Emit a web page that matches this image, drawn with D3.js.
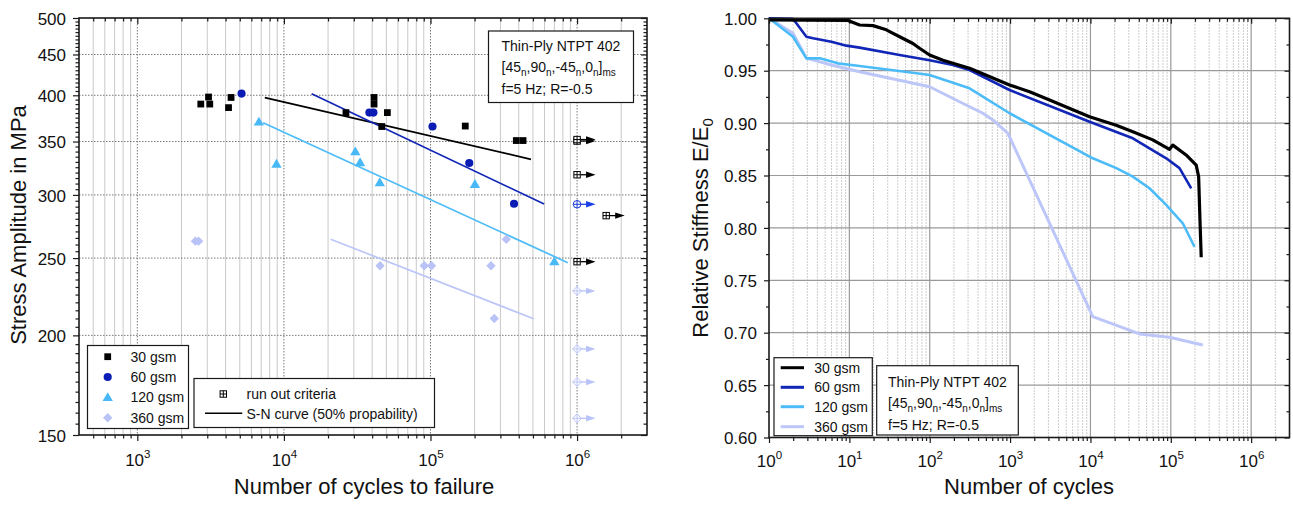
<!DOCTYPE html>
<html><head><meta charset="utf-8">
<script src="https://cdn.jsdelivr.net/npm/d3@7"></script>
<style>body{margin:0;background:#fff}svg{display:block}</style>
</head><body>
<svg id="c" width="1293" height="506"></svg>
<script>
// ---------------- DATA ----------------
const seriesNames = ["30 gsm", "60 gsm", "120 gsm", "360 gsm"];
const seriesColors = ["#000000", "#0b1cb4", "#48b9f6", "#b9c3f7"];
const lineColors = ["#000000", "#1126b6", "#4cbcf8", "#bcc6f8"];

// Left: S-N data (cycles to failure, stress amplitude MPa)
const fat30_N = [2710, 3060, 3120, 4190, 4360, 26500, 41200, 41200, 50800, 46500, 172700, 385000, 428000];
const fat30_S = [390, 398, 390, 386, 397.5, 380.5, 397.5, 390, 380.5, 365.5, 366, 351, 351];
const fat60_N = [5140, 38300, 40800, 103200, 183900, 371500];
const fat60_S = [402, 380.5, 380.5, 365.5, 329, 292.5];
const fat120_N = [6750, 8900, 30700, 33100, 45100, 201000, 700000];
const fat120_S = [370.5, 328, 340, 329.5, 311, 309.5, 247.5];
const fat360_N = [2490, 2620, 45300, 90600, 101600, 258700, 272500, 329300];
const fat360_S = [262.5, 262.5, 244.5, 244.5, 244.5, 244.5, 210, 264];

// S-N curves (start / end points)
const snCurve_N = [[7410, 485000], [15450, 596000], [7220, 864000], [20840, 505800]];
const snCurve_S = [[397.3, 332.5], [401.9, 292.2], [369.6, 246.7], [264, 209.8]];

// Run-outs
const runout_N = [1e6, 1e6, 1e6, 1.58e6, 1e6, 1e6, 1e6, 1e6, 1e6, 1e6];
const runout_S = [350.5, 352, 318, 282.6, 247.4, 292, 227.4, 192.3, 174.8, 157.4];
const runout_series = [0, 0, 0, 0, 0, 1, 3, 3, 3, 3];

// Left axis ticks
const xTicksLeft = [1e3, 1e4, 1e5, 1e6];
const yTicksLeft = [150, 200, 250, 300, 350, 400, 450, 500];

// Right: stiffness degradation curves
const stiff30_N = [1, 9.6, 13.4, 19.7, 28.8, 42.2, 61.8, 74.8, 99.7, 146, 313, 986, 1750, 3100, 9750, 20900, 33700, 59700, 96400, 106000, 155000, 207000, 222000, 230000, 239000];
const stiff30_E = [0.9985, 0.998, 0.9936, 0.993, 0.989, 0.9824, 0.976, 0.9714, 0.965, 0.960, 0.9523, 0.9364, 0.930, 0.922, 0.906, 0.898, 0.8918, 0.884, 0.875, 0.879, 0.8696, 0.860, 0.849, 0.8107, 0.772];
const stiff60_N = [1, 1.99, 2.92, 3.53, 5.97, 9.2, 13.4, 42.2, 99.7, 194, 313, 986, 9750, 33700, 87700, 128300, 179500];
const stiff60_E = [1.0, 0.9995, 0.9824, 0.981, 0.9777, 0.9739, 0.972, 0.965, 0.960, 0.9554, 0.9507, 0.9316, 0.9013, 0.8855, 0.8664, 0.857, 0.8378];
const stiff120_N = [1, 1.99, 2.92, 4.3, 7.2, 13.4, 61.8, 99.7, 313, 986, 10700, 21000, 33700, 54300, 87700, 141000, 197000];
const stiff120_E = [1.0, 0.9824, 0.9618, 0.9618, 0.957, 0.9545, 0.948, 0.9459, 0.9332, 0.9094, 0.8664, 0.857, 0.8489, 0.8378, 0.8219, 0.8044, 0.782];
const stiff360_N = [1, 1.99, 2.92, 5.97, 13.4, 99.7, 235, 459, 611, 940, 10700, 40800, 96400, 250000];
const stiff360_E = [1.0, 0.9857, 0.962, 0.9554, 0.949, 0.9347, 0.9204, 0.9094, 0.903, 0.8903, 0.7153, 0.6988, 0.6956, 0.6883];

const xTicksRight = [1, 10, 100, 1e3, 1e4, 1e5, 1e6];
const yTicksRight = [0.60, 0.65, 0.70, 0.75, 0.80, 0.85, 0.90, 0.95, 1.00];

// ---------------- DRAW ----------------
const FONT = '"Liberation Sans", Arial, Helvetica, sans-serif';
const svg = d3.select("#c").attr("font-family", FONT);
const AX = "#1a1a1a";

function minorLog(domain) {
  const out = [];
  for (let k = -1; k <= 7; k++) for (let n = 2; n <= 9; n++) {
    const v = n * Math.pow(10, k);
    if (v > domain[0] * 1.0001 && v < domain[1] * 0.9999) out.push(v);
  }
  return out;
}
function styleAxis(g, w) {
  g.select(".domain").remove();
  g.selectAll(".tick line").attr("stroke", AX).attr("stroke-width", w || 1.2);
}
function supLabels(g, size, y) {
  g.selectAll(".tick text").each(function (d) {
    const t = d3.select(this);
    const e = Math.round(Math.log10(d));
    t.text(null).attr("font-size", size).attr("fill", "#111").attr("y", y).attr("dy", 0);
    t.append("tspan").text("10");
    t.append("tspan").attr("dy", -size * 0.45).attr("font-size", size * 0.68).text(e);
  });
}

// ===== LEFT CHART =====
const L = { x0: 79, x1: 647, y0: 18, y1: 435 };
const xL = d3.scaleLog().domain([400, 3e6]).range([L.x0, L.x1]);
const yL = d3.scaleLog().domain([150, 500]).range([L.y1, L.y0]);
const xMinorL = minorLog(xL.domain());
const yMinorL = d3.range(155, 500, 5).filter(v => v % 50 !== 0);

const gl = svg.append("g");
gl.append("g").selectAll("line").data(xMinorL).join("line")
  .attr("x1", d => xL(d)).attr("x2", d => xL(d)).attr("y1", L.y0).attr("y2", L.y1)
  .attr("stroke", "#c9c9c9").attr("stroke-width", 1);
gl.append("g").selectAll("line").data(xTicksLeft).join("line")
  .attr("x1", d => xL(d)).attr("x2", d => xL(d)).attr("y1", L.y0).attr("y2", L.y1)
  .attr("stroke", "#7a7a7a").attr("stroke-width", 1).attr("stroke-dasharray", "1.5,1.5");
gl.append("g").selectAll("line").data(yTicksLeft.filter(v => v > 150 && v < 500)).join("line")
  .attr("x1", L.x0).attr("x2", L.x1).attr("y1", d => yL(d)).attr("y2", d => yL(d))
  .attr("stroke", "#7a7a7a").attr("stroke-width", 1).attr("stroke-dasharray", "1.5,1.5");

let g;
g = gl.append("g").attr("transform", `translate(0,${L.y1})`)
  .call(d3.axisBottom(xL).tickValues(xTicksLeft).tickSize(6));
styleAxis(g); supLabels(g, 17, 31);
g = gl.append("g").attr("transform", `translate(0,${L.y1})`)
  .call(d3.axisBottom(xL).tickValues(xMinorL).tickSize(3.5).tickFormat(""));
styleAxis(g);
g = gl.append("g").attr("transform", `translate(0,${L.y0})`)
  .call(d3.axisBottom(xL).tickValues(xTicksLeft).tickSize(6).tickFormat(""));
styleAxis(g);
g = gl.append("g").attr("transform", `translate(0,${L.y0})`)
  .call(d3.axisBottom(xL).tickValues(xMinorL).tickSize(3.5).tickFormat(""));
styleAxis(g);
g = gl.append("g").attr("transform", `translate(${L.x0},0)`)
  .call(d3.axisLeft(yL).tickValues(yTicksLeft).tickSize(6).tickFormat(d3.format("d")));
styleAxis(g);
g.selectAll(".tick text").attr("font-size", 17).attr("fill", "#111").attr("x", -13).attr("dy", "0.36em");
g = gl.append("g").attr("transform", `translate(${L.x0},0)`)
  .call(d3.axisLeft(yL).tickValues(yMinorL).tickSize(3.5).tickFormat(""));
styleAxis(g);
g = gl.append("g").attr("transform", `translate(${L.x1},0)`)
  .call(d3.axisLeft(yL).tickValues(yTicksLeft).tickSize(6).tickFormat(""));
styleAxis(g);
g = gl.append("g").attr("transform", `translate(${L.x1},0)`)
  .call(d3.axisLeft(yL).tickValues(yMinorL).tickSize(3.5).tickFormat(""));
styleAxis(g);
gl.append("rect").attr("x", L.x0).attr("y", L.y0).attr("width", L.x1 - L.x0).attr("height", L.y1 - L.y0)
  .attr("fill", "none").attr("stroke", AX).attr("stroke-width", 1.6);

gl.append("text").attr("x", 364).attr("y", 494).attr("text-anchor", "middle")
  .attr("font-size", 22).attr("fill", "#111").text("Number of cycles to failure");
gl.append("text").attr("transform", `translate(26,225) rotate(-90)`).attr("text-anchor", "middle")
  .attr("font-size", 22).attr("fill", "#111").text("Stress Amplitude in MPa");

const snLine = d3.line().x(d => xL(d[0])).y(d => yL(d[1]));
snCurve_N.forEach((ns, i) => {
  gl.append("path").datum(ns.map((n, j) => [n, snCurve_S[i][j]]))
    .attr("d", snLine).attr("fill", "none").attr("stroke", lineColors[i]).attr("stroke-width", 1.7);
});

function symFor(i) {
  if (i === 0) return d3.symbol(d3.symbolSquare, 46);
  if (i === 1) return d3.symbol(d3.symbolCircle, 52);
  if (i === 2) return d3.symbol(d3.symbolTriangle, 46);
  return d3.symbol(d3.symbolSquare, 44);
}
const fatN = [fat30_N, fat60_N, fat120_N, fat360_N];
const fatS = [fat30_S, fat60_S, fat120_S, fat360_S];
[3, 2, 1, 0].forEach(i => {
  gl.append("g").selectAll("path").data(fatN[i].map((n, j) => [n, fatS[i][j]])).join("path")
    .attr("d", symFor(i))
    .attr("transform", d => `translate(${xL(d[0])},${yL(d[1])})` + (i === 3 ? " rotate(45)" : "") + (i === 2 ? " translate(0,0.8)" : ""))
    .attr("fill", seriesColors[i]);
});

function runMarker(sel, cx, cy, s, col) {
  const r = 3.2;
  if (s === 0) {
    sel.append("rect").attr("x", cx - r).attr("y", cy - r).attr("width", 2 * r).attr("height", 2 * r)
      .attr("fill", "#fff").attr("stroke", col).attr("stroke-width", 1);
  } else if (s === 1) {
    sel.append("circle").attr("cx", cx).attr("cy", cy).attr("r", r + 0.6)
      .attr("fill", "#fff").attr("stroke", col).attr("stroke-width", 1);
  } else {
    const q = r + 1.2;
    sel.append("path").attr("d", `M${cx},${cy - q}L${cx + q},${cy}L${cx},${cy + q}L${cx - q},${cy}Z`)
      .attr("fill", "#fff").attr("stroke", col).attr("stroke-width", 1);
  }
  const rr = s === 0 ? r : (s === 1 ? r + 0.6 : r + 1.2);
  sel.append("line").attr("x1", cx - rr).attr("x2", cx + rr).attr("y1", cy).attr("y2", cy).attr("stroke", col).attr("stroke-width", 1);
  sel.append("line").attr("x1", cx).attr("x2", cx).attr("y1", cy - rr).attr("y2", cy + rr).attr("stroke", col).attr("stroke-width", 1);
}
function arrow(sel, cx, cy, col) {
  sel.append("line").attr("x1", cx + 3.5).attr("x2", cx + 10).attr("y1", cy).attr("y2", cy)
    .attr("stroke", col).attr("stroke-width", 1.3);
  sel.append("path").attr("d", `M${cx + 9},${cy - 3.2}L${cx + 18.5},${cy}L${cx + 9},${cy + 3.2}Z`).attr("fill", col);
}
runout_N.forEach((n, i) => {
  const s = runout_series[i];
  const cx = xL(n), cy = yL(runout_S[i]);
  const col = s === 1 ? "#1a40e6" : (s === 3 ? "#b9c3f7" : "#000");
  const mcol = s === 1 ? "#1a3ad6" : col;
  arrow(gl, cx, cy, col);
  runMarker(gl, cx, cy, s, mcol);
});

function infoBox(sel, x, y, w, h, tx, b1) {
  sel.append("rect").attr("x", x).attr("y", y).attr("width", w).attr("height", h)
    .attr("fill", "#fff").attr("stroke", AX).attr("stroke-width", 1.2);
  sel.append("text").attr("x", tx).attr("y", b1).attr("font-size", 14).attr("fill", "#111").text("Thin-Ply NTPT 402");
  const t2 = sel.append("text").attr("x", tx).attr("y", b1 + 21).attr("font-size", 14).attr("fill", "#111");
  const parts = [["[45", 0], ["n", 1], [",90", 0], ["n", 1], [",-45", 0], ["n", 1], [",0", 0], ["n", 1], ["]", 0], ["ms", 1]];
  let prevSub = false;
  parts.forEach(([s, sub]) => {
    const ts = t2.append("tspan").text(s);
    if (sub && !prevSub) ts.attr("dy", 4).attr("font-size", 10);
    else if (!sub && prevSub) ts.attr("dy", -4);
    else if (sub) ts.attr("font-size", 10);
    prevSub = !!sub;
  });
  sel.append("text").attr("x", tx).attr("y", b1 + 43).attr("font-size", 14).attr("fill", "#111").text("f=5 Hz; R=-0.5");
}
infoBox(gl, 488.5, 31, 145, 71.5, 501.5, 51);

gl.append("rect").attr("x", 87.5).attr("y", 345.5).attr("width", 101).attr("height", 83)
  .attr("fill", "#fff").attr("stroke", AX).attr("stroke-width", 1.2);
const legY = [356.7, 377, 397.3, 417.7];
seriesNames.forEach((nm, i) => {
  gl.append("path").attr("d", symFor(i))
    .attr("transform", `translate(107.7,${legY[i]})` + (i === 3 ? " rotate(45)" : "") + (i === 2 ? " translate(0,0.8)" : ""))
    .attr("fill", seriesColors[i]);
  gl.append("text").attr("x", 130.5).attr("y", legY[i] + 5).attr("font-size", 14).attr("fill", "#111").text(nm);
});
gl.append("rect").attr("x", 194).attr("y", 378.5).attr("width", 240.5).attr("height", 49)
  .attr("fill", "#fff").attr("stroke", AX).attr("stroke-width", 1.2);
runMarker(gl, 223.3, 394, 0, "#000");
gl.append("text").attr("x", 246.5).attr("y", 399).attr("font-size", 14).attr("fill", "#111").text("run out criteria");
gl.append("line").attr("x1", 205).attr("x2", 242.3).attr("y1", 413.3).attr("y2", 413.3).attr("stroke", "#000").attr("stroke-width", 1.6);
gl.append("text").attr("x", 246.5).attr("y", 418.5).attr("font-size", 14).attr("fill", "#111").text("S-N curve (50% propability)");

// ===== RIGHT CHART =====
const R = { x0: 769, x1: 1289.5, y0: 18.3, y1: 437.5 };
const xR = d3.scaleLog().domain([1, 3e6]).range([R.x0, R.x1]);
const yR = d3.scaleLinear().domain([0.6, 1.0]).range([R.y1, R.y0]);
const xMinorR = minorLog(xR.domain());
const yMinorR = d3.range(0.625, 1.0, 0.05);

const gr = svg.append("g");
gr.append("g").selectAll("line").data(xMinorR).join("line")
  .attr("x1", d => xR(d)).attr("x2", d => xR(d)).attr("y1", R.y0).attr("y2", R.y1)
  .attr("stroke", "#bdbdbd").attr("stroke-width", 1).attr("stroke-dasharray", "1.5,1.5");
gr.append("g").selectAll("line").data(xTicksRight.filter(v => v > 1)).join("line")
  .attr("x1", d => xR(d)).attr("x2", d => xR(d)).attr("y1", R.y0).attr("y2", R.y1)
  .attr("stroke", "#9a9a9a").attr("stroke-width", 1.2);
gr.append("g").selectAll("line").data(yTicksRight.filter(v => v > 0.6 && v < 1)).join("line")
  .attr("x1", R.x0).attr("x2", R.x1).attr("y1", d => yR(d)).attr("y2", d => yR(d))
  .attr("stroke", "#9a9a9a").attr("stroke-width", 1.2);

g = gr.append("g").attr("transform", `translate(0,${R.y1})`)
  .call(d3.axisBottom(xR).tickValues(xTicksRight).tickSize(5.5));
styleAxis(g); supLabels(g, 17, 29);
g = gr.append("g").attr("transform", `translate(0,${R.y1})`)
  .call(d3.axisBottom(xR).tickValues(xMinorR).tickSize(3.5).tickFormat(""));
styleAxis(g);
g = gr.append("g").attr("transform", `translate(0,${R.y0})`)
  .call(d3.axisBottom(xR).tickValues(xTicksRight).tickSize(5.5).tickFormat(""));
styleAxis(g);
g = gr.append("g").attr("transform", `translate(0,${R.y0})`)
  .call(d3.axisBottom(xR).tickValues(xMinorR).tickSize(3.5).tickFormat(""));
styleAxis(g);
g = gr.append("g").attr("transform", `translate(${R.x0},0)`)
  .call(d3.axisLeft(yR).tickValues(yTicksRight).tickSize(5).tickFormat(d3.format(".2f")));
styleAxis(g);
g.selectAll(".tick text").attr("font-size", 17).attr("fill", "#111").attr("x", -12).attr("dy", "0.36em");
g = gr.append("g").attr("transform", `translate(${R.x0},0)`)
  .call(d3.axisLeft(yR).tickValues(yMinorR).tickSize(3).tickFormat(""));
styleAxis(g);
g = gr.append("g").attr("transform", `translate(${R.x1},0)`)
  .call(d3.axisLeft(yR).tickValues(yTicksRight).tickSize(5).tickFormat(""));
styleAxis(g);
g = gr.append("g").attr("transform", `translate(${R.x1},0)`)
  .call(d3.axisLeft(yR).tickValues(yMinorR).tickSize(3).tickFormat(""));
styleAxis(g);

const stiffN = [stiff30_N, stiff60_N, stiff120_N, stiff360_N];
const stiffE = [stiff30_E, stiff60_E, stiff120_E, stiff360_E];
const stiffW = [3.2, 2.6, 2.6, 3];
const cLine = d3.line().x(d => xR(d[0])).y(d => yR(d[1]));
[3, 2, 1, 0].forEach(i => {
  gr.append("path").datum(stiffN[i].map((n, j) => [n, stiffE[i][j]]))
    .attr("d", cLine).attr("fill", "none").attr("stroke", lineColors[i])
    .attr("stroke-width", stiffW[i]).attr("stroke-linejoin", "round");
});

gr.append("rect").attr("x", R.x0).attr("y", R.y0).attr("width", R.x1 - R.x0).attr("height", R.y1 - R.y0)
  .attr("fill", "none").attr("stroke", AX).attr("stroke-width", 1.6);

gr.append("text").attr("x", 1029).attr("y", 494).attr("text-anchor", "middle")
  .attr("font-size", 22).attr("fill", "#111").text("Number of cycles");
const yt = gr.append("text").attr("transform", `translate(708,228) rotate(-90)`).attr("text-anchor", "middle")
  .attr("font-size", 22).attr("fill", "#111");
yt.append("tspan").text("Relative Stiffness E/E");
yt.append("tspan").attr("dy", 5).attr("font-size", 15).text("0");

gr.append("rect").attr("x", 774).attr("y", 357.7).attr("width", 98.3).attr("height", 78)
  .attr("fill", "#fff").attr("stroke", AX).attr("stroke-width", 1.2);
const rLegY = [367.7, 387.3, 406.7, 426.7];
seriesNames.forEach((nm, i) => {
  gr.append("line").attr("x1", 780.7).attr("x2", 804).attr("y1", rLegY[i]).attr("y2", rLegY[i])
    .attr("stroke", lineColors[i]).attr("stroke-width", 3);
  gr.append("text").attr("x", 814.3).attr("y", rLegY[i] + 5).attr("font-size", 14).attr("fill", "#111").text(nm);
});
infoBox(gr, 876.7, 365.7, 141.6, 69.3, 888, 386.5);
</script>
</body></html>
